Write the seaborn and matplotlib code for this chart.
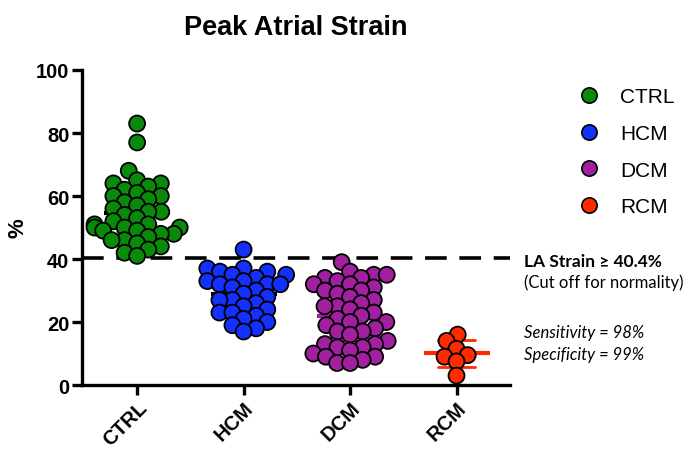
import numpy as np
import pandas as pd
import matplotlib
matplotlib.use("Agg")
import matplotlib.pyplot as plt
from matplotlib.lines import Line2D
import seaborn as sns

# Values (peak atrial strain, %)
groups = ["CTRL", "HCM", "DCM", "RCM"]
ctrl = [83, 77, 68, 65, 64, 63, 64, 62, 61, 60, 60, 59, 58, 57, 56, 55, 55, 54, 53,
        52, 51, 51, 50, 50, 50, 49, 49, 48, 48, 47, 46, 46, 45, 44, 43, 42, 41]
hcm = [43, 37, 37, 36, 36, 35, 35, 34, 33, 33, 32, 32, 32, 31, 30, 29, 28, 27, 27,
       26, 25, 24, 23, 23, 22, 21, 20, 19, 18, 17]
dcm = [39, 36, 35, 35, 34, 34, 33, 32, 32, 31, 30, 30, 29, 28, 27, 26, 25, 25, 24,
       23, 22, 21, 20, 20, 19, 18, 17, 17, 16, 14, 13, 13, 12, 12, 11, 10, 9, 9, 8, 7, 7]
rcm = [16, 14, 11.5, 9.5, 9, 7.5, 3]
cutoff = 40.4

point_colors = ["#0a8a0a", "#1430ff", "#a020a0", "#ff2a00"]
bar_colors = ["black", "black", "#a020a0", "#ff2a00"]

df = pd.DataFrame({
    "group": ["CTRL"] * len(ctrl) + ["HCM"] * len(hcm) + ["DCM"] * len(dcm) + ["RCM"] * len(rcm),
    "strain": ctrl + hcm + dcm + rcm,
})

sns.set_style("ticks")
plt.rcParams["font.family"] = ["Liberation Sans", "DejaVu Sans"]
for key in ["text.color", "axes.labelcolor", "xtick.color", "ytick.color", "axes.edgecolor"]:
    plt.rcParams[key] = "black"

fig = plt.figure(figsize=(6.87, 4.64), dpi=100)
ax = fig.add_axes([0.119, 0.168, 0.623, 0.679])

# mean line and SD whiskers
sns.pointplot(data=df, x="group", y="strain", hue="group", order=groups, hue_order=groups,
              palette=bar_colors, errorbar="sd", capsize=0.35, linestyle="none",
              marker="_", markersize=48, markeredgewidth=3, err_kws={"linewidth": 2},
              legend=False, ax=ax)
for art in ax.lines:
    art.set_zorder(1)

# swarm laid out with small markers, then markers enlarged so they overlap (as in the original)
n_before = len(ax.collections)
sns.swarmplot(data=df, x="group", y="strain", hue="group", order=groups, hue_order=groups,
              palette=point_colors, size=7.6, edgecolor="black", linewidth=1.3,
              legend=False, ax=ax, warn_thresh=1)
swarm = ax.collections[n_before:]

ax.axhline(cutoff, color="black", lw=2.6, dashes=(6, 3.5), zorder=2, clip_on=False)

ax.set_xlim(-0.52, 3.5)
ax.set_ylim(0, 100)
ax.set_yticks([0, 20, 40, 60, 80, 100])
ax.set_xlabel("")
ax.set_ylabel("%", fontsize=16, fontweight="bold", labelpad=5)
ax.set_title("Peak Atrial Strain", fontsize=19.5, fontweight="bold", pad=26)
sns.despine(ax=ax)
for side in ["left", "bottom"]:
    ax.spines[side].set_linewidth(2.4)
ax.tick_params(axis="both", direction="out", length=7, width=2.4, labelsize=14.5, pad=2)

fig.canvas.draw()
for coll in swarm:
    if "draw" in coll.__dict__:
        del coll.draw
    coll.set_sizes([11.5 ** 2] * len(coll.get_offsets()))
    coll.set_zorder(3)
    coll.set_clip_on(False)

for lab in ax.get_yticklabels():
    lab.set_fontweight("bold")
for lab in ax.get_xticklabels():
    lab.set_fontweight("bold")
    lab.set_rotation(45)
    lab.set_ha("right")
    lab.set_rotation_mode("anchor")

handles = [Line2D([], [], marker="o", linestyle="none", markersize=11,
                  markerfacecolor=c, markeredgecolor="black", markeredgewidth=1.2)
           for c in point_colors]
fig.legend(handles, groups, loc="upper left", bbox_to_anchor=(0.80, 0.85),
           frameon=False, fontsize=15, labelspacing=0.85, handletextpad=0.5)

anno_font = ["Lato", "DejaVu Sans"]
fig.text(524 / 687, 1 - 262 / 464, "LA Strain \u2265 40.4%", fontsize=12.5,
         fontweight="bold", va="center", family=anno_font)
fig.text(524 / 687, 1 - 283 / 464, "(Cut off for normality)", fontsize=12,
         va="center", family=anno_font)
fig.text(524 / 687, 1 - 333 / 464, "Sensitivity = 98%", fontsize=12,
         style="italic", va="center", family=anno_font)
fig.text(524 / 687, 1 - 355 / 464, "Specificity = 99%", fontsize=12,
         style="italic", va="center", family=anno_font)

fig.savefig("out.png", dpi=100)
